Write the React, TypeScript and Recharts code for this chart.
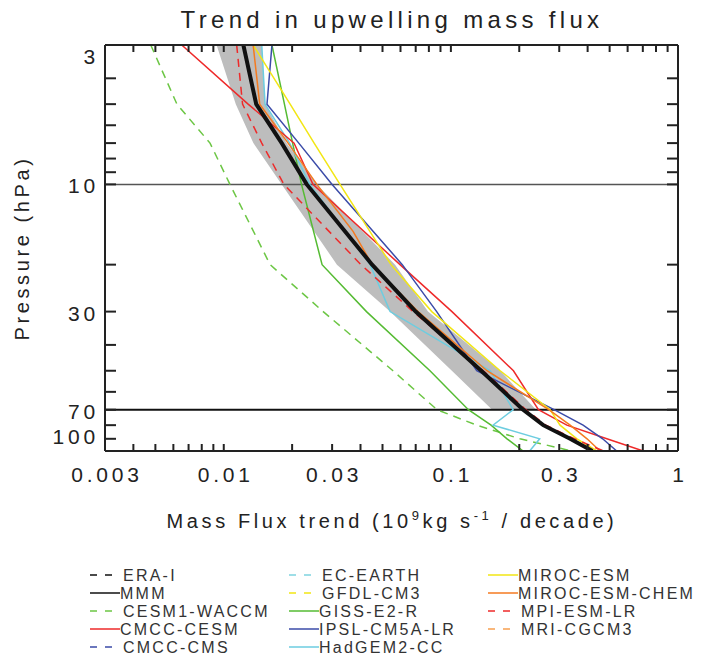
import React from "react"
import { ComposedChart, Line, Area, XAxis, YAxis, ReferenceLine } from "recharts"

// pressure levels (hPa) the profiles are given on
const PRESSURE = [3, 5, 7, 10, 15, 20, 30, 50, 70, 80, 90, 100]

const P_LABELS = [3, 10, 30, 70, 100]
const P_MINOR = [3, 4, 5, 6, 7, 8, 9, 10, 20, 30, 40, 50, 60, 70, 80, 90, 100]
const FLUX_LABELS = [0.003, 0.01, 0.03, 0.1, 0.3, 1]
const FLUX_MINOR = [
  0.003, 0.004, 0.005, 0.006, 0.007, 0.008, 0.009,
  0.01, 0.02, 0.03, 0.04, 0.05, 0.06, 0.07, 0.08, 0.09,
  0.1, 0.2, 0.3, 0.4, 0.5, 0.6, 0.7, 0.8, 0.9, 1,
]

// trend in upwelling mass flux, 10^9 kg/s per decade
const BAND_LO = [0.0093, 0.0113, 0.0135, 0.018, null, 0.0315, 0.054, 0.101, 0.152, null, null, null]
const BAND_HI = [0.0147, 0.0152, 0.0189, 0.0257, null, 0.0568, 0.0793, 0.165, 0.237, null, null, null]
const MMM = [0.0122, 0.0139, 0.018, 0.0232, null, 0.045, 0.07, 0.136, 0.208, 0.255, 0.335, 0.42]
const CESM1_WACCM = [0.00477, 0.00622, 0.0087, 0.01065, null, 0.016, 0.0274, 0.0556, 0.0869, 0.13, 0.2015, 0.34]
const CMCC_CESM = [0.00653, 0.0128, 0.0204, 0.0247, null, 0.0597, 0.1011, 0.1886, 0.243, 0.324, 0.486, 0.703]
const MPI_ESM_LR = [0.0114, 0.0121, 0.0147, 0.0184, null, 0.0402, 0.0681, 0.139, 0.214, 0.262, 0.35, 0.47]
const MIROC_ESM = [0.01347, 0.0196, 0.025, 0.0325, null, 0.0545, 0.0824, 0.1648, 0.2735, 0.3024, 0.359, 0.44]
const IPSL_CM5A_LR = [0.0163, 0.0155, 0.0214, 0.03, null, 0.0611, 0.0866, 0.13, 0.2848, 0.3821, 0.4658, 0.5372]
const MIROC_ESM_CHEM = [0.01347, 0.0144, 0.0192, 0.0257, 0.0371, 0.045, 0.0717, 0.1442, 0.2698, 0.335, 0.3977, 0.4537]
const GISS_E2_R = [0.0163, 0.0185, 0.0201, 0.022, null, 0.0271, 0.0425, 0.0809, 0.1194, 0.1503, 0.1767, 0.208]
const HADGEM2_CC = [0.0147, 0.0152, 0.0195, 0.0239, null, 0.0441, 0.054, 0.149, 0.188, 0.1533, 0.2461, 0.2222]

const LEGEND_NAMES = [
  "ERA-I", "MMM", "CESM1-WACCM", "CMCC-CESM", "CMCC-CMS",
  "EC-EARTH", "GFDL-CM3", "GISS-E2-R", "IPSL-CM5A-LR", "HadGEM2-CC",
  "MIROC-ESM", "MIROC-ESM-CHEM", "MPI-ESM-LR", "MRI-CGCM3",
]
const LEGEND_COLORS = [
  "#111111", "#111111", "#6cc644", "#ee2a2a", "#3b4ba8",
  "#7fd3e0", "#f2e614", "#55bb33", "#3b4ba8", "#6dcde0",
  "#f2e614", "#f47a20", "#ee2a2a", "#f7a050",
]
const LEGEND_DASHED = [
  true, false, true, false, true,
  true, true, false, false, false,
  false, false, true, true,
]

const rows = PRESSURE.map((p, i) => ({
  p,
  band: BAND_LO[i] != null ? [BAND_LO[i], BAND_HI[i]] : null,
  mmm: MMM[i],
  waccm: CESM1_WACCM[i],
  cmcc: CMCC_CESM[i],
  mpi: MPI_ESM_LR[i],
  miroc: MIROC_ESM[i],
  ipsl: IPSL_CM5A_LR[i],
  chem: MIROC_ESM_CHEM[i],
  giss: GISS_E2_R[i],
  had: HADGEM2_CC[i],
}))

// xId: GISS sits on the top axis (same scale) so that axis has data of its own
const MODELS = [
  { key: "waccm", color: "#6cc644", dash: "8 6", xId: "f" },
  { key: "giss", color: "#55bb33", xId: "tp" },
  { key: "had", color: "#6dcde0", xId: "f" },
  { key: "cmcc", color: "#ee2a2a", xId: "f" },
  { key: "ipsl", color: "#3b4ba8", xId: "f" },
  { key: "miroc", color: "#f2e614", xId: "f" },
  { key: "chem", color: "#f47a20", xId: "f" },
  { key: "mpi", color: "#ee2a2a", dash: "8 6", xId: "f" },
]

const FONT = "'Liberation Sans', Arial, sans-serif"
const INK = "#222"

// bottom axis carries every minor tick; only decades and 3s get a label
function XTick(props: any) {
  const { x, y, payload } = props
  if (!FLUX_LABELS.includes(payload.value)) return <g />
  return (
    <text x={x + 2} y={y + 38} textAnchor="middle" fontSize={21} fill={INK}
      fontFamily={FONT} style={{ letterSpacing: "0.18em" }}>
      {String(payload.value)}
    </text>
  )
}

function YTick(props: any) {
  const { x, y, payload, index } = props
  // end labels are pulled inside the frame
  let dy = 9
  if (index === 0) dy = 18.5
  if (index === P_LABELS.length - 1) dy = -7
  return (
    <text x={x + 4} y={y + dy} textAnchor="end" fontSize={21} fill={INK}
      fontFamily={FONT} style={{ letterSpacing: "0.18em" }}>
      {String(payload.value)}
    </text>
  )
}

// minor-tick axes only draw tick lines
const NoLabel = () => <g />
function BlankTick() {
  return <g />
}

const frame = { stroke: INK, strokeWidth: 2 }

export default function App() {
  return (
    <div style={{ position: "absolute", left: 0, top: 0, width: 708, height: 658, background: "#fff", fontFamily: FONT }}>
      <ComposedChart layout="vertical" width={708} height={500} data={rows}
        margin={{ top: 44, right: 30, left: 45, bottom: 9 }}>
        <XAxis xAxisId="f" type="number" scale="log" domain={[0.003, 1]} allowDataOverflow
          ticks={FLUX_MINOR} interval={0} tickLine={frame} tickSize={-7} tickMargin={0}
          axisLine={frame} tick={<XTick />} height={40} />
        <XAxis xAxisId="tp" orientation="top" type="number" scale="log" domain={[0.003, 1]}
          allowDataOverflow ticks={FLUX_MINOR} interval={0} tick={<NoLabel />} tickSize={0}
          tickLine={false} axisLine={frame} height={1} />
        <YAxis yAxisId="p" type="number" dataKey="p" scale="log" domain={[3, 100]} allowDataOverflow
          ticks={P_LABELS} interval={0} tickLine={false} tickSize={0} tickMargin={10}
          axisLine={frame} tick={<YTick />} width={60} />
        <YAxis yAxisId="lt" orientation="left" mirror type="number" dataKey="p" scale="log" domain={[3, 100]}
          allowDataOverflow ticks={P_MINOR} interval={0} tick={NoLabel} tickSize={11}
          tickLine={frame} axisLine={false} />
        <YAxis yAxisId="rt" orientation="right" mirror type="number" dataKey="p" scale="log" domain={[3, 100]}
          allowDataOverflow ticks={P_MINOR} interval={0} tick={NoLabel} tickSize={11}
          tickLine={frame} axisLine={frame} />

        <Area xAxisId="f" yAxisId="p" dataKey="band" fill="#bdbdbd" fillOpacity={1} stroke="none"
          connectNulls isAnimationActive={false} />

        <ReferenceLine xAxisId="f" yAxisId="p" y={10} stroke="#555" strokeWidth={1.5} />
        <ReferenceLine xAxisId="f" yAxisId="p" y={70} stroke="#111" strokeWidth={2} />

        {/* invisible copies so the tick-only axes get a domain */}
        <Line xAxisId="f" yAxisId="lt" dataKey="mmm" stroke="none" dot={false} activeDot={false}
          connectNulls isAnimationActive={false} />
        <Line xAxisId="f" yAxisId="rt" dataKey="mmm" stroke="none" dot={false} activeDot={false}
          connectNulls isAnimationActive={false} />

        {MODELS.map((m) => (
          <Line key={m.key} xAxisId={m.xId} yAxisId="p" dataKey={m.key} stroke={m.color} strokeWidth={1.5}
            strokeDasharray={m.dash} dot={false} activeDot={false} connectNulls
            isAnimationActive={false} />
        ))}
        <Line xAxisId="f" yAxisId="p" dataKey="mmm" stroke="#111" strokeWidth={4} dot={false}
          activeDot={false} connectNulls isAnimationActive={false} />
      </ComposedChart>

      {/* strip chart sharing the same x scale; its bottom axis sits on the top frame
          and its ticks hang down into the plot */}
      <div style={{ position: "absolute", left: 0, top: 0, pointerEvents: "none" }}>
        <ComposedChart layout="vertical" width={708} height={100} data={rows}
          margin={{ top: 5, right: 30, left: 105, bottom: 15 }}>
          <XAxis type="number" scale="log" domain={[0.003, 1]} allowDataOverflow
            ticks={FLUX_MINOR} interval={0} tickLine={frame} tickSize={7} tickMargin={0}
            axisLine={false} tick={<BlankTick />} height={40} />
          <YAxis type="number" dataKey="p" scale="log" domain={[3, 100]} allowDataOverflow hide />
          <Line dataKey="mmm" stroke="none" dot={false} activeDot={false} connectNulls
            isAnimationActive={false} />
        </ComposedChart>
      </div>

      <svg width={708} height={658} style={{ position: "absolute", left: 0, top: 0, pointerEvents: "none" }}>
        <text x={392} y={28} textAnchor="middle" fontSize={24} fill={INK} fontFamily={FONT}
          style={{ letterSpacing: "0.18em" }}>
          Trend in upwelling mass flux
        </text>
        <text x={29} y={248} textAnchor="middle" fontSize={20} fill={INK} fontFamily={FONT}
          transform="rotate(-90 29 248)" style={{ letterSpacing: "0.18em" }}>
          Pressure (hPa)
        </text>
        <text x={392} y={528} textAnchor="middle" fontSize={20} fill={INK} fontFamily={FONT}
          style={{ letterSpacing: "0.18em" }}>
          Mass Flux trend (10<tspan dy={-8} fontSize={13}>9</tspan>
          <tspan dy={8}>kg s</tspan><tspan dy={-8} fontSize={13}>-1</tspan>
          <tspan dy={8}> / decade)</tspan>
        </text>

        {LEGEND_NAMES.map((name, i) => {
          const col = Math.floor(i / 5)
          const row = i % 5
          const x0 = 90 + col * 199
          const y0 = 575 + row * 18
          return (
            <g key={name}>
              {LEGEND_DASHED[i] ? (
                <line x1={x0} y1={y0} x2={x0 + 22} y2={y0} stroke={LEGEND_COLORS[i]}
                  strokeWidth={1.5} strokeDasharray="7 8" />
              ) : (
                <line x1={x0} y1={y0} x2={x0 + 30} y2={y0} stroke={LEGEND_COLORS[i]} strokeWidth={1.5} />
              )}
              <text x={x0 + (LEGEND_DASHED[i] ? 33 : 30)} y={y0 + 6} fontSize={16} fill="#333"
                fontFamily={FONT} style={{ letterSpacing: "0.14em" }}>
                {name}
              </text>
            </g>
          )
        })}
      </svg>
    </div>
  )
}
